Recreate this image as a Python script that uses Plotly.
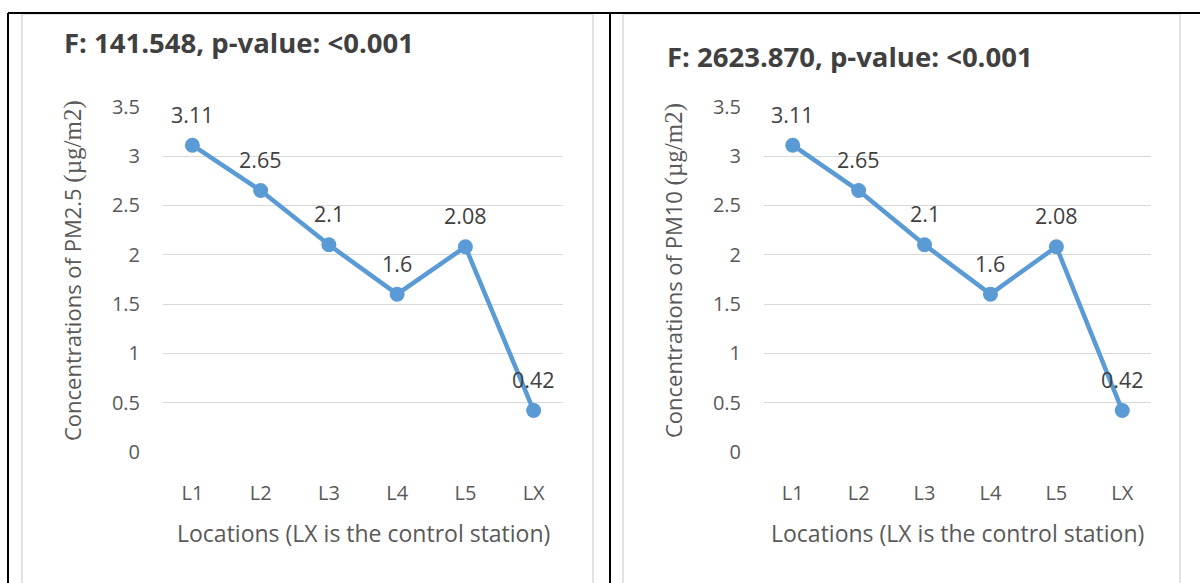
import plotly.graph_objects as go

locations = ["L1", "L2", "L3", "L4", "L5", "LX"]
pm25 = [3.11, 2.65, 2.1, 1.6, 2.08, 0.42]
pm10 = [3.11, 2.65, 2.1, 1.6, 2.08, 0.42]
titles = ["F: 141.548, p-value: <0.001", "F: 2623.870, p-value: <0.001"]
y_titles = [
    'Concentrations of PM2.5 <span style="font-family:Liberation Serif;font-size:25px">(µg/m2)</span>',
    'Concentrations of PM10 <span style="font-family:Liberation Serif;font-size:25px">(µg/m2)</span>',
]
x_title = "Locations (LX is the control station)"
y_ticks = [0, 0.5, 1, 1.5, 2, 2.5, 3, 3.5]

W, H = 1200, 583
LINE = "#5B9BD5"
GRID = "#D9D9D9"
SANS = "Open Sans"

def px(x):
    return x / W

def py(y):
    return 1 - y / H

fig = go.Figure()

panels = [
    dict(series=pm25, xa="x", ya="y", x0=163, x1=563, title_x=62, title_y=42, ytitle_x=72),
    dict(series=pm10, xa="x2", ya="y2", x0=764, x1=1151, title_x=665, title_y=56, ytitle_x=673),
]

annotations = []
for i, p in enumerate(panels):
    fig.add_trace(go.Scatter(
        x=locations, y=p["series"], mode="lines+markers",
        line=dict(color=LINE, width=4.5),
        marker=dict(color=LINE, size=15),
        xaxis=p["xa"], yaxis=p["ya"], showlegend=False, hoverinfo="x+y",
    ))
    for loc, v in zip(locations, p["series"]):
        annotations.append(dict(
            x=loc, y=v, xref=p["xa"], yref=p["ya"], text=str(v),
            showarrow=False, yshift=31, yanchor="middle", xanchor="center",
            font=dict(family=SANS, size=21.5, color="#404040"),
        ))
    annotations.append(dict(
        x=px(p["title_x"]), y=py(p["title_y"]), xref="paper", yref="paper",
        text="<b>" + titles[i] + "</b>", showarrow=False, xanchor="left", yanchor="middle",
        font=dict(family=SANS, size=27.5, color="#404040"),
    ))
    annotations.append(dict(
        x=px(p["ytitle_x"]), y=py(271), xref="paper", yref="paper",
        text=y_titles[i], showarrow=False, textangle=-90, xanchor="center", yanchor="middle",
        font=dict(family=SANS, size=22, color="#595959"),
    ))
    annotations.append(dict(
        x=px((p["x0"] + p["x1"]) / 2), y=py(533), xref="paper", yref="paper",
        text=x_title, showarrow=False, xanchor="center", yanchor="middle",
        font=dict(family=SANS, size=23, color="#595959"),
    ))

axis_common_x = dict(
    type="category", showgrid=False, zeroline=False, showline=False, ticks="",
    tickfont=dict(family=SANS, size=20, color="#595959"), ticklabelstandoff=27,
    fixedrange=True, automargin=False,
)
axis_common_y = dict(
    range=[0, 3.5], tickvals=y_ticks, ticktext=[f"{t:g}" for t in y_ticks],
    showgrid=True, gridcolor=GRID, gridwidth=1, zeroline=False, showline=False,
    ticks="", tickfont=dict(family=SANS, size=20, color="#595959"),
    ticklabelstandoff=22, fixedrange=True, automargin=False,
)

ydom = [py(452), py(106.7)]
fig.update_layout(
    width=W, height=H, margin=dict(l=0, r=0, t=0, b=0, pad=0, autoexpand=False),
    paper_bgcolor="white", plot_bgcolor="white",
    xaxis=dict(domain=[px(163), px(563)], anchor="y", **axis_common_x),
    yaxis=dict(domain=ydom, anchor="x", **axis_common_y),
    xaxis2=dict(domain=[px(764), px(1151)], anchor="y2", **axis_common_x),
    yaxis2=dict(domain=ydom, anchor="x2", **axis_common_y),
    annotations=annotations,
    shapes=[
        # chart frames (grey)
        dict(type="rect", xref="paper", yref="paper", x0=px(22), x1=px(593), y0=py(600), y1=py(14),
             line=dict(color=GRID, width=1.5)),
        dict(type="rect", xref="paper", yref="paper", x0=px(623), x1=px(1180), y0=py(600), y1=py(14),
             line=dict(color=GRID, width=1.5)),
        # table borders (black)
        dict(type="line", xref="paper", yref="paper", x0=px(8), x1=px(1200), y0=py(13), y1=py(13),
             line=dict(color="black", width=2)),
        dict(type="line", xref="paper", yref="paper", x0=px(8), x1=px(8), y0=py(13), y1=py(583),
             line=dict(color="black", width=2)),
        dict(type="line", xref="paper", yref="paper", x0=px(610), x1=px(610), y0=py(13), y1=py(583),
             line=dict(color="black", width=2)),
    ],
)

fig.write_html(
    "out.html",
    config={"displayModeBar": False},
    post_script="document.body.style.margin='0';document.body.style.padding='0';"
                "document.documentElement.style.overflow='hidden';document.body.style.overflow='hidden';",
)
